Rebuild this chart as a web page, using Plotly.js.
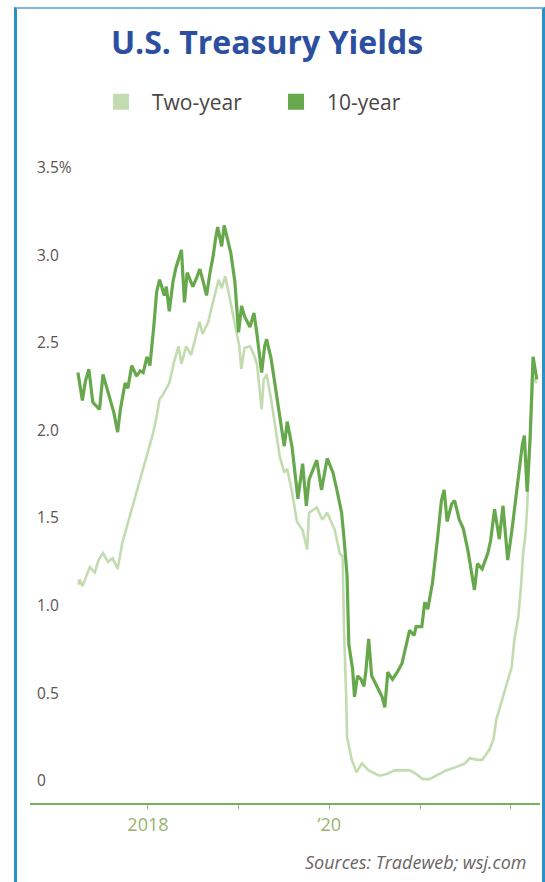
<!DOCTYPE html>
<html>
<head>
<meta charset="utf-8">
<script src="https://cdn.plot.ly/plotly-3.0.1.min.js"></script>
<style>
  html, body { margin: 0; padding: 0; background: #ffffff; }
  #wrap { position: relative; width: 545px; height: 882px; overflow: hidden; }
  #frame { position: absolute; left: 14px; top: 7px; width: 531px; height: 900px;
           border: 3px solid #2a90c6; border-top: 2px solid #7fb8d8; box-sizing: border-box; pointer-events: none; }
  #chart { position: absolute; left: 0; top: 0; width: 545px; height: 882px; }
</style>
</head>
<body>
<div id="wrap">
  <div id="chart"></div>
  <div id="frame"></div>
</div>
<script>
// ---- Data ----
const tenYearDates = [
  '2017-03-25','2017-04-12','2017-04-24','2017-05-08','2017-05-24','2017-06-08','2017-06-20','2017-07-04',
  '2017-07-16','2017-08-01','2017-08-17','2017-09-01','2017-09-12','2017-10-01','2017-10-12','2017-10-28',
  '2017-11-16','2017-12-01','2017-12-13','2017-12-28','2018-01-09','2018-01-25','2018-02-05','2018-02-17',
  '2018-03-08','2018-03-16','2018-03-28','2018-04-12','2018-04-24','2018-05-16','2018-05-28','2018-06-08',
  '2018-07-01','2018-07-13','2018-07-29','2018-08-13','2018-08-25','2018-09-08','2018-09-20','2018-10-01',
  '2018-10-09','2018-10-25','2018-11-04','2018-11-16','2018-12-01','2018-12-17','2019-01-01','2019-01-13',
  '2019-01-25','2019-02-16','2019-03-04','2019-03-16','2019-04-04','2019-04-16','2019-04-24','2019-05-12',
  '2019-05-24','2019-06-16','2019-07-04','2019-07-16','2019-08-04','2019-08-28','2019-09-16','2019-10-01',
  '2019-10-12','2019-11-12','2019-12-01','2019-12-24','2020-01-16','2020-02-01','2020-02-20','2020-03-01',
  '2020-03-13','2020-03-20','2020-04-04','2020-04-12','2020-04-24','2020-05-08','2020-05-20','2020-05-28',
  '2020-06-08','2020-06-20','2020-07-12','2020-08-01','2020-08-12','2020-08-24','2020-09-12','2020-10-01',
  '2020-10-20','2020-11-12','2020-11-20','2020-12-08','2020-12-16','2021-01-08','2021-01-20','2021-02-01',
  '2021-02-20','2021-03-12','2021-03-28','2021-04-08','2021-04-20','2021-05-08','2021-05-20','2021-06-08',
  '2021-06-24','2021-07-12','2021-07-28','2021-08-08','2021-08-20','2021-09-08','2021-10-01','2021-10-12',
  '2021-10-28','2021-11-16','2021-12-01','2021-12-20','2022-01-05','2022-01-25','2022-02-05','2022-02-17',
  '2022-02-25','2022-03-08','2022-03-20','2022-04-01','2022-04-08','2022-04-16'
];
const tenYearYield = [
  2.33,2.17,2.28,2.35,2.16,2.14,2.12,2.32,
  2.26,2.19,2.10,1.99,2.12,2.27,2.24,2.37,
  2.31,2.34,2.33,2.42,2.37,2.60,2.79,2.86,
  2.77,2.82,2.68,2.85,2.93,3.03,2.73,2.90,
  2.82,2.86,2.92,2.84,2.77,2.90,2.99,3.10,
  3.16,3.05,3.17,3.10,3.01,2.85,2.56,2.71,
  2.65,2.59,2.67,2.55,2.33,2.48,2.52,2.41,
  2.29,2.06,1.91,2.05,1.91,1.61,1.81,1.57,
  1.72,1.83,1.66,1.84,1.76,1.66,1.53,1.38,
  1.17,0.78,0.64,0.48,0.60,0.58,0.54,0.63,
  0.81,0.60,0.54,0.48,0.42,0.62,0.58,0.62,
  0.67,0.80,0.86,0.83,0.88,0.88,1.02,0.98,
  1.13,1.38,1.60,1.66,1.48,1.58,1.60,1.49,
  1.44,1.32,1.17,1.09,1.24,1.21,1.30,1.37,
  1.55,1.38,1.57,1.26,1.42,1.66,1.78,1.92,
  1.97,1.65,1.95,2.42,2.36,2.29
];

const twoYearDates = [
  '2017-03-27','2017-04-01','2017-04-12','2017-04-30','2017-05-12','2017-06-01','2017-06-16','2017-07-04',
  '2017-07-16','2017-07-24','2017-08-12','2017-09-01','2017-09-20','2018-01-21','2018-02-05','2018-02-17',
  '2018-03-01','2018-03-16','2018-03-28','2018-04-16','2018-05-04','2018-05-16','2018-06-04','2018-06-24',
  '2018-07-16','2018-07-28','2018-08-09','2018-09-01','2018-09-16','2018-10-01','2018-10-13','2018-10-25',
  '2018-11-08','2018-11-20','2018-12-12','2019-01-04','2019-01-12','2019-01-25','2019-02-16','2019-03-04',
  '2019-03-16','2019-03-24','2019-04-04','2019-04-12','2019-04-24','2019-05-12','2019-06-04','2019-06-16',
  '2019-07-04','2019-07-16','2019-08-04','2019-08-24','2019-09-16','2019-10-04','2019-10-12','2019-11-12',
  '2019-12-04','2019-12-24','2020-01-24','2020-02-12','2020-02-24','2020-03-01','2020-03-09','2020-03-13',
  '2020-04-01','2020-04-20','2020-05-12','2020-06-08','2020-07-20','2020-08-20','2020-09-20','2020-10-24',
  '2020-11-20','2020-12-16','2021-01-12','2021-02-08','2021-03-08','2021-04-16','2021-05-28','2021-07-01',
  '2021-07-20','2021-08-20','2021-09-08','2021-10-08','2021-10-24','2021-11-04','2021-12-01','2021-12-20',
  '2022-01-05','2022-01-16','2022-02-01','2022-02-12','2022-02-20','2022-03-01','2022-03-08','2022-03-20',
  '2022-04-01','2022-04-16'
];
const twoYearYield = [
  1.12,1.15,1.11,1.18,1.22,1.19,1.26,1.30,
  1.27,1.25,1.27,1.21,1.36,1.98,2.08,2.18,
  2.20,2.24,2.27,2.39,2.48,2.38,2.48,2.43,
  2.56,2.62,2.55,2.62,2.71,2.80,2.86,2.81,
  2.88,2.80,2.65,2.48,2.35,2.47,2.48,2.43,
  2.38,2.26,2.12,2.29,2.32,2.18,1.97,1.85,
  1.76,1.78,1.65,1.48,1.43,1.32,1.53,1.56,
  1.49,1.53,1.43,1.30,1.28,0.85,0.50,0.25,
  0.12,0.05,0.10,0.06,0.03,0.04,0.06,0.06,
  0.06,0.04,0.01,0.01,0.03,0.06,0.08,0.10,
  0.13,0.12,0.12,0.18,0.24,0.35,0.48,0.58,
  0.65,0.81,0.94,1.12,1.30,1.40,1.55,1.95,
  2.30,2.27
];

const yTickVals = [0, 0.5, 1.0, 1.5, 2.0, 2.5, 3.0, 3.5];
const yTickText = ['0', '0.5', '1.0', '1.5', '2.0', '2.5', '3.0', '3.5%'];
const xTickVals = ['2018-01-01', '2019-01-01', '2020-01-01', '2021-01-01', '2022-01-01'];
const xTickText = ['2018', '', '\u201920', '', ''];
const seriesNames = ['Two-year', '10-year'];

// ---- Styles ----
const lightGreen = '#c2dcb0';
const darkGreen = '#68a84c';
const FONT = '"Open Sans", Lato, sans-serif';

const traces = [
  { type: 'scatter', mode: 'lines', x: twoYearDates, y: twoYearYield, name: seriesNames[0],
    line: { color: lightGreen, width: 2.6 }, showlegend: false, hoverinfo: 'skip' },
  { type: 'scatter', mode: 'lines', x: tenYearDates, y: tenYearYield, name: seriesNames[1],
    line: { color: darkGreen, width: 3.2 }, showlegend: false, hoverinfo: 'skip' },
  // legend-only entries with square swatches
  { type: 'scatter', mode: 'markers', x: [null], y: [null], name: seriesNames[0],
    marker: { symbol: 'square', size: 16, color: lightGreen }, showlegend: true },
  { type: 'scatter', mode: 'markers', x: [null], y: [null], name: seriesNames[1],
    marker: { symbol: 'square', size: 16, color: darkGreen }, showlegend: true }
];

const layout = {
  width: 545, height: 882,
  margin: { l: 30, r: 5, t: 150, b: 79 },
  paper_bgcolor: '#ffffff', plot_bgcolor: '#ffffff',
  font: { family: FONT, color: '#555050' },
  title: { text: '<b>U.S. Treasury Yields</b>', font: { family: FONT, size: 32, color: '#2c4f9f' },
           xref: 'container', yref: 'container', x: 267 / 545, xanchor: 'center', y: 1 - 43 / 882, yanchor: 'middle' },
  showlegend: true,
  legend: { orientation: 'h', xref: 'container', yref: 'container', x: 90 / 545, xanchor: 'left', y: 1 - 102 / 882, yanchor: 'middle',
            font: { size: 21, color: '#4a4545', family: FONT }, itemwidth: 52, entrywidth: 108, traceorder: 'normal',
            bgcolor: 'rgba(0,0,0,0)' },
  xaxis: {
    type: 'date', range: ['2016-09-13', '2022-04-29'],
    showgrid: false, zeroline: false,
    showline: true, linecolor: '#78b25a', linewidth: 2,
    ticks: 'outside', ticklen: 4, tickcolor: '#8aba70', tickwidth: 1,
    tickvals: xTickVals, ticktext: xTickText,
    tickfont: { size: 18, color: '#95b56e', family: FONT }
  },
  yaxis: {
    range: [-0.126, 3.6],
    showgrid: false, zeroline: false, showline: false,
    ticks: '', tickvals: yTickVals, ticktext: yTickText,
    ticklabelposition: 'inside', ticklabelstandoff: 4,
    tickfont: { size: 15.5, color: '#5a5353', family: FONT }
  },
  annotations: [
    { text: '<i>Sources: Tradeweb; wsj.com</i>', xref: 'paper', yref: 'paper', x: (529 - 30) / 510, xanchor: 'right',
      y: (803 - 862) / 653, yanchor: 'middle', showarrow: false,
      font: { size: 18, color: '#6b6464', family: FONT } }
  ]
};

Plotly.newPlot('chart', traces, layout, { staticPlot: true, displayModeBar: false });
</script>
</body>
</html>
